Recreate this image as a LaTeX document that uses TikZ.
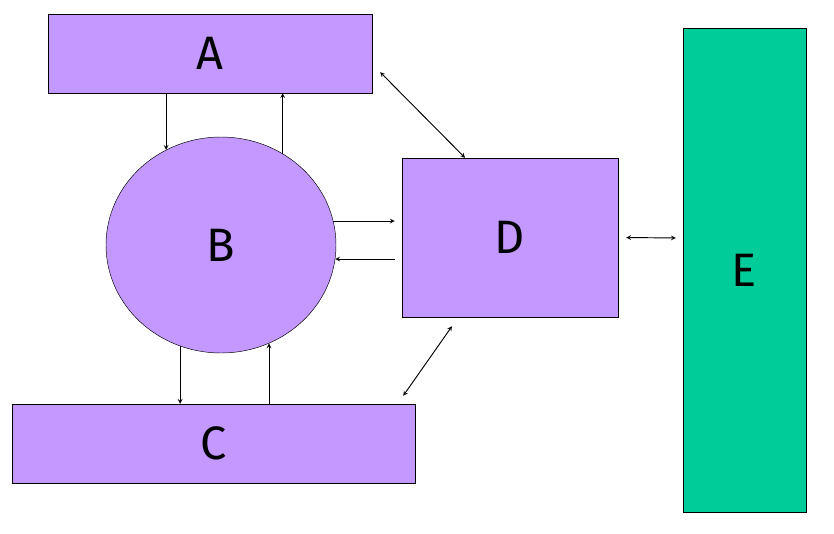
\documentclass[tikz,border=0pt]{standalone}
\usepackage{fontspec}
\setmainfont{Fira Sans}
\usetikzlibrary{shapes.geometric, arrows, calc}
\definecolor{lilac}{HTML}{C499FF}
\definecolor{mint}{HTML}{00CC99}
\tikzstyle{block} = [rectangle, draw=black, thin, fill=lilac, inner sep=0pt, font=\fontsize{40}{40}\selectfont]
\tikzstyle{blob} = [ellipse, draw=black, thin, fill=lilac, minimum width=230*0.03cm, minimum height=216*0.03cm, inner sep=0pt, font=\fontsize{40}{40}\selectfont]
\tikzstyle{arrow} = [thick,->,>=stealth]
\tikzstyle{twoway} = [thick,<->,>=stealth]

\begin{document}
\begin{tikzpicture}[x=0.03cm,y=-0.03cm]
        \useasboundingbox (0,0) rectangle (834,534);
        \node [block, minimum width=324*0.03cm, minimum height=79*0.03cm] at (210,53.5) (A) {A};
        \node [blob] at (221,245) (B) {B};
        \node [block, minimum width=403*0.03cm, minimum height=79*0.03cm] at (213.5,443.5) (C) {C};
        \node [block, minimum width=216*0.03cm, minimum height=159*0.03cm] at (510,237.5) (D) {D};
        \node [block, fill=mint, minimum width=123*0.03cm, minimum height=484*0.03cm] at (744.5,270) (E) {E};
        \draw [arrow] (A.south -| B.120) -- (B.120);
        \draw [arrow] (B.56) -- (A.south -| B.56);
        \draw [arrow] (B.12) -- ([xshift=-6]B.12 -| D.west);
        \draw [arrow] ([xshift=-6]D.west |- B.-7) -- (B.-7);
        \draw [arrow] (B.248) -- (B.248 |- C.north);
        \draw [arrow] (C.north -| B.296) -- (B.296);
        \draw [twoway] ($(A.south east)+(8,-21)$) -- ($(D.north)+(-45,0)$);
        \draw [twoway] ($(C.north east)+(-12,-8)$) -- ($(D.south)+(-58,9)$);
        \draw [twoway] ($(D.east)+(8,0)$) -- ($(E.west)+(-7,-32)$);
\end{tikzpicture}
\end{document}
